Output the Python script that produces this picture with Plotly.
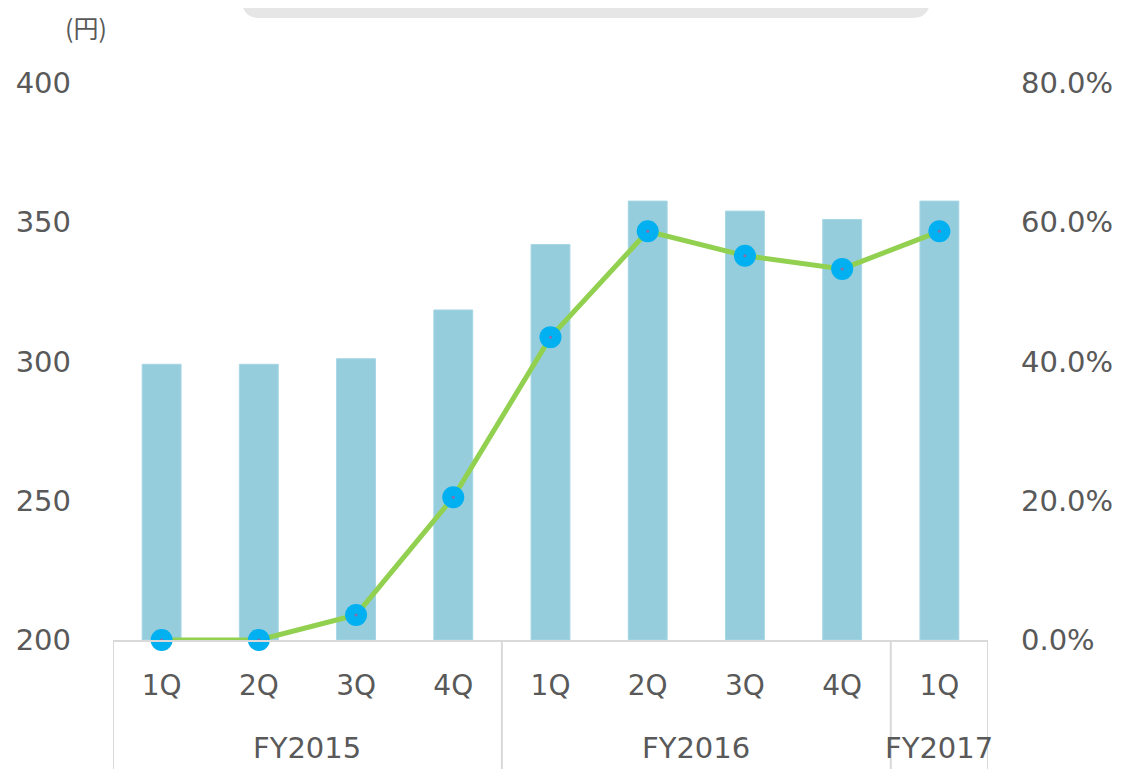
import plotly.graph_objects as go

fiscal_years = ["FY2015", "FY2015", "FY2015", "FY2015", "FY2016", "FY2016", "FY2016", "FY2016", "FY2017"]
quarters = ["1Q", "2Q", "3Q", "4Q", "1Q", "2Q", "3Q", "4Q", "1Q"]
price_yen = [299, 299, 301, 318.5, 342, 357.6, 354, 351, 357.6]
ratio = [0.0, 0.0, 0.036, 0.205, 0.435, 0.587, 0.552, 0.533, 0.587]

left_ticks = [200, 250, 300, 350, 400]
right_ticks = [0, 0.2, 0.4, 0.6, 0.8]
unit_label = "(円)"

FONT = "Verdana, DejaVu Sans, sans-serif"
TXT = "#595959"
GRID = "#D9D9D9"
FS = 29

# page body has an 8px default margin; the figure is sized so the plot lands
# where it should in the 1132x769 window.
OFF = 8
FIG_W, FIG_H = 1132 - OFF, 769 - OFF
PL, PR, PT, PB = 113, 988, 83, 640  # desired plot box in window pixels
ML, MT = PL - OFF, PT - OFF
MR, MB = FIG_W - (PR - OFF), FIG_H - (PB - OFF)
W, H = PR - PL, PB - PT

def px(xp):
    return (xp - PL) / W

def py(yp):
    return (PB - yp) / H

idx = list(range(len(quarters)))

fig = go.Figure()
fig.add_trace(go.Bar(
    x=idx, y=[v - left_ticks[0] for v in price_yen], base=left_ticks[0], width=0.4,
    marker=dict(color="#96CDDD", line=dict(color="#A6D6E4", width=1)),
    yaxis="y", showlegend=False, hoverinfo="skip",
))
fig.add_trace(go.Scatter(
    x=idx, y=ratio, yaxis="y2", mode="lines+markers",
    line=dict(color="#92D050", width=5),
    marker=dict(color="#00B0F0", size=22),
    cliponaxis=False, showlegend=False,
))
fig.add_trace(go.Scatter(
    x=idx, y=ratio, yaxis="y2", mode="markers",
    marker=dict(color="#8C6BA8", size=3),
    cliponaxis=False, showlegend=False, hoverinfo="skip",
))

# group (fiscal-year) spans
groups = []
for i, fy in enumerate(fiscal_years):
    if groups and groups[-1][0] == fy:
        groups[-1][2] = i
    else:
        groups.append([fy, i, i])

annotations = []
shapes = []
for fy, a, b in groups:
    annotations.append(dict(
        text=fy, x=(a + b) / 2, xref="x", y=0, yref="paper", yshift=-108,
        xanchor="center", yanchor="middle", showarrow=False,
        font=dict(family=FONT, size=FS, color=TXT),
    ))
bounds = [groups[0][1] - 0.5] + [b + 0.5 for _, _, b in groups]
for bx in bounds:
    shapes.append(dict(
        type="line", xref="x", yref="paper", x0=bx, x1=bx, y0=0, y1=py(780),
        line=dict(color=GRID, width=2), layer="below",
    ))

annotations.append(dict(
    text=unit_label, xref="paper", yref="paper", x=px(86), y=py(26.5),
    xanchor="center", yanchor="middle", showarrow=False,
    font=dict(family="Noto Sans CJK JP, " + FONT, size=25, color=TXT),
))

# grey rounded banner at top
r = 18
x0, x1, y0, y1 = 242, 930, -20, 18
path = (f"M {px(x0)},{py(y0)} L {px(x0)},{py(y1 - r)} "
        f"Q {px(x0)},{py(y1)} {px(x0 + r)},{py(y1)} "
        f"L {px(x1 - r)},{py(y1)} Q {px(x1)},{py(y1)} {px(x1)},{py(y1 - r)} "
        f"L {px(x1)},{py(y0)} Z")
shapes.append(dict(type="path", xref="paper", yref="paper", path=path,
                   fillcolor="#E6E6E6", line=dict(width=0), layer="above"))

fig.update_layout(
    width=FIG_W, height=FIG_H,
    margin=dict(l=ML, r=MR, t=MT, b=MB, pad=0, autoexpand=False),
    paper_bgcolor="white", plot_bgcolor="white",
    font=dict(family=FONT, size=FS, color=TXT),
    xaxis=dict(
        tickvals=idx, ticktext=quarters, automargin=False,
        showline=True, linecolor=GRID, linewidth=2,
        ticks="", showgrid=False, zeroline=False,
        ticklabelstandoff=19,
        tickfont=dict(family=FONT, size=28, color=TXT),
        range=[-0.5, len(idx) - 0.5],
    ),
    yaxis=dict(
        range=[left_ticks[0], left_ticks[-1]], tickvals=left_ticks, automargin=False,
        showgrid=False, zeroline=False, showline=False, ticks="",
        ticklabelstandoff=41,
        tickfont=dict(family=FONT, size=FS, color=TXT),
    ),
    yaxis2=dict(
        range=[right_ticks[0], right_ticks[-1]], tickvals=right_ticks, tickformat=".1%",
        overlaying="y", side="right", automargin=False,
        showgrid=False, zeroline=False, showline=False, ticks="",
        ticklabelstandoff=32,
        tickfont=dict(family=FONT, size=FS, color=TXT),
    ),
    annotations=annotations,
    shapes=shapes,
)

fig.write_html("out.html")
